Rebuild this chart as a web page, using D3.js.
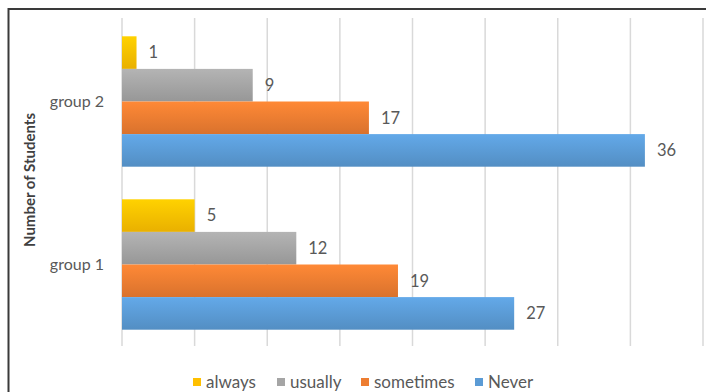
<!DOCTYPE html>
<html>
<head>
<meta charset="utf-8">
<script src="https://cdn.jsdelivr.net/npm/d3@7"></script>
<style>
  html, body { margin: 0; padding: 0; background: #fff; }
  svg { display: block; font-family: Lato, "Open Sans", sans-serif; }
</style>
</head>
<body>
<svg id="chart" width="706" height="392"></svg>
<script>
// Survey responses per group
const groups = ["group 2", "group 1"];
const seriesNames = ["always", "usually", "sometimes", "Never"];
const always    = [1, 5];
const usually   = [9, 12];
const sometimes = [17, 19];
const never     = [36, 27];
const xTicks = [0, 5, 10, 15, 20, 25, 30, 35, 40];
const colors = ["#FFC000", "#A5A5A5", "#ED7D31", "#5B9BD5"];

const seriesValues = [always, usually, sometimes, never];

const svg = d3.select("#chart");

// chart frame
svg.append("rect")
  .attr("x", 8.5).attr("y", 9)
  .attr("width", 720).attr("height", 420)
  .attr("fill", "#fff")
  .attr("stroke", "#3a3a3a").attr("stroke-width", 2);

// vertical gradients for each series
const defs = svg.append("defs");
colors.forEach((c, i) => {
  const g = defs.append("linearGradient")
    .attr("id", "grad" + i)
    .attr("x1", 0).attr("y1", 0).attr("x2", 0).attr("y2", 1);
  g.append("stop").attr("offset", "0%").attr("stop-color", d3.color(c).brighter(0.25));
  g.append("stop").attr("offset", "100%").attr("stop-color", d3.color(c).darker(0.25));
});

const x = d3.scaleLinear().domain([0, 40]).range([122, 703]);
const y = d3.scaleBand().domain(groups).range([20, 346]).paddingInner(0.2).paddingOuter(0.1);
const ySub = d3.scaleBand().domain(seriesNames).range([0, y.bandwidth()]);

// gridlines
svg.append("g")
  .selectAll("line")
  .data(xTicks)
  .join("line")
  .attr("x1", d => x(d)).attr("x2", d => x(d))
  .attr("y1", 18).attr("y2", 346)
  .attr("stroke", "#d9d9d9").attr("stroke-width", 1.5);

// bars
const rows = [];
groups.forEach((g, gi) => {
  seriesNames.forEach((s, si) => {
    rows.push({ group: g, series: s, si, value: seriesValues[si][gi] });
  });
});

svg.append("g")
  .selectAll("rect")
  .data(rows)
  .join("rect")
  .attr("x", x(0))
  .attr("y", d => y(d.group) + ySub(d.series))
  .attr("width", d => x(d.value) - x(0))
  .attr("height", ySub.bandwidth())
  .attr("fill", d => `url(#grad${d.si})`);

// value labels
svg.append("g")
  .selectAll("text")
  .data(rows)
  .join("text")
  .attr("x", d => x(d.value) + 12)
  .attr("y", d => y(d.group) + ySub(d.series) + ySub.bandwidth() / 2)
  .attr("dy", "0.35em")
  .attr("fill", "#595959")
  .attr("font-size", 16.5)
  .text(d => d.value);

// category axis labels
svg.append("g")
  .selectAll("text")
  .data(groups)
  .join("text")
  .attr("x", 104)
  .attr("y", d => y(d) + y.bandwidth() / 2)
  .attr("dy", "0.35em")
  .attr("text-anchor", "end")
  .attr("fill", "#595959")
  .attr("font-size", 16)
  .text(d => d);

// axis title
svg.append("text")
  .attr("transform", `translate(35, 180) rotate(-90)`)
  .attr("text-anchor", "middle")
  .attr("fill", "#404040")
  .attr("font-size", 15)
  .attr("font-weight", "bold")
  .text("Number of Students");

// legend
const legendX = [193, 277, 361, 475];
const legend = svg.append("g")
  .selectAll("g")
  .data(seriesNames)
  .join("g")
  .attr("transform", (d, i) => `translate(${legendX[i]}, 382)`);
legend.append("rect")
  .attr("x", 0).attr("y", -4)
  .attr("width", 8).attr("height", 8)
  .attr("fill", (d, i) => colors[i]);
legend.append("text")
  .attr("x", 13).attr("dy", "0.35em")
  .attr("fill", "#595959")
  .attr("font-size", 17)
  .text(d => d);
</script>
</body>
</html>
